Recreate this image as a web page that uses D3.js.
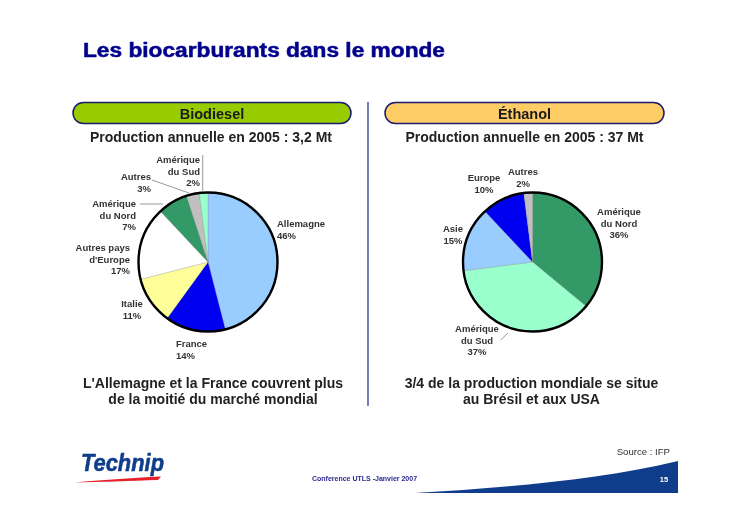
<!DOCTYPE html>
<html>
<head>
<meta charset="utf-8">
<script src="https://d3js.org/d3.v7.min.js"></script>
<style>
  html, body { margin: 0; padding: 0; background: #fff; }
  svg { display: block; filter: blur(0.5px); }
  text { font-family: "Liberation Sans", Arial, sans-serif; }
  .lbl { font-size: 9.5px; font-weight: bold; fill: #333; }
  .sub { font-size: 14px; font-weight: bold; fill: #222; text-anchor: middle; }
</style>
</head>
<body>
<div id="slide"></div>
<script>
// biodiesel pie
var bioCategories = ["Allemagne", "France", "Italie", "Autres pays d'Europe", "Amérique du Nord", "Autres", "Amérique du Sud"];
var bioValues = [46, 14, 11, 17, 7, 3, 2];
var bioColors = ["#99ccff", "#0000f0", "#ffff99", "#ffffff", "#339966", "#c0c0c0", "#99ffcc"];
var bioLines = [["Allemagne", "46%"], ["France", "14%"], ["Italie", "11%"], ["Autres pays", "d'Europe", "17%"], ["Amérique", "du Nord", "7%"], ["Autres", "3%"], ["Amérique", "du Sud", "2%"]];
// x, first line y, anchor for each label
var bioLabelPos = [[277, 227, "start"], [176, 347, "start"], [132, 307, "middle"], [130, 251, "end"], [136, 207, "end"], [151, 180, "end"], [200, 163, "end"]];

// ethanol pie
var ethCategories = ["Amérique du Nord", "Amérique du Sud", "Asie", "Europe", "Autres"];
var ethValues = [36, 37, 15, 10, 2];
var ethColors = ["#339966", "#99ffcc", "#99ccff", "#0000f0", "#c0c0c0"];
var ethLines = [["Amérique", "du Nord", "36%"], ["Amérique", "du Sud", "37%"], ["Asie", "15%"], ["Europe", "10%"], ["Autres", "2%"]];
var ethLabelPos = [[619, 215, "middle"], [477, 332, "middle"], [453, 232, "middle"], [484, 181, "middle"], [523, 175, "middle"]];

var width = 732, height = 517;
var radius = 69.5;

var svg = d3.select("#slide").append("svg")
  .attr("width", width)
  .attr("height", height);

// title
svg.append("text").attr("x", 83).attr("y", 57)
  .attr("textLength", 362).attr("lengthAdjust", "spacingAndGlyphs")
  .style("font-size", "20px").style("font-weight", "bold").style("fill", "#00008c")
  .style("stroke", "#00008c").style("stroke-width", 0.5)
  .text("Les biocarburants dans le monde");

// headers
function pill(x, w, fill, name) {
  svg.append("rect").attr("x", x).attr("y", 102.5).attr("width", w).attr("height", 21).attr("rx", 10.5)
    .attr("fill", fill).attr("stroke", "#1a1a6e").attr("stroke-width", 1.5);
  svg.append("text").attr("x", x + w / 2).attr("y", 119).attr("text-anchor", "middle")
    .style("font-size", "14.5px").style("font-weight", "bold").style("fill", "#1a1a1a").text(name);
}
pill(73, 278, "#99cc00", "Biodiesel");
pill(385, 279, "#ffcc66", "Éthanol");

svg.append("line").attr("x1", 368).attr("x2", 368).attr("y1", 102).attr("y2", 406)
  .attr("stroke", "#3a46a0").attr("stroke-width", 1.4);

svg.append("text").attr("class", "sub").attr("x", 211).attr("y", 142).text("Production annuelle en 2005 : 3,2 Mt");
svg.append("text").attr("class", "sub").attr("x", 524.5).attr("y", 142).text("Production annuelle en 2005 : 37 Mt");

var pie = d3.pie().sort(null);
var arc = d3.arc().innerRadius(0).outerRadius(radius);

function drawPie(cx, cy, values, colors) {
  var g = svg.append("g").attr("transform", "translate(" + cx + "," + cy + ")");
  g.selectAll("path.slice").data(pie(values)).enter().append("path")
    .attr("class", "slice")
    .attr("d", arc)
    .attr("fill", function (d, i) { return colors[i]; })
    .attr("stroke", "#777").attr("stroke-width", 0.25);
  g.append("circle").attr("r", radius).attr("fill", "none").attr("stroke", "#000").attr("stroke-width", 2.4);
}
drawPie(208, 262, bioValues, bioColors);
drawPie(532.5, 262, ethValues, ethColors);

// leader lines, under the labels
var leaders = [
  [[202.7, 155], [202.7, 192]],
  [[152, 180], [189, 193]],
  [[140, 204], [163, 204]],
  [[500.7, 340], [508, 333]]
];
svg.selectAll("path.leader").data(leaders).enter().append("path")
  .attr("class", "leader")
  .attr("d", d3.line())
  .attr("fill", "none").attr("stroke", "#999").attr("stroke-width", 1);

function drawLabels(lines, pos) {
  lines.forEach(function (l, i) {
    var t = svg.append("text").attr("class", "lbl").attr("text-anchor", pos[i][2]);
    l.forEach(function (s, j) {
      t.append("tspan").attr("x", pos[i][0]).attr("y", pos[i][1] + j * 11.7).text(s);
    });
  });
}
drawLabels(bioLines, bioLabelPos);
drawLabels(ethLines, ethLabelPos);

// conclusions
var concl = [
  [213, 388, "L'Allemagne et la France couvrent plus"],
  [213, 404, "de la moitié du marché mondial"],
  [531.5, 388, "3/4 de la production mondiale se situe"],
  [531.5, 404, "au Brésil et aux USA"]
];
concl.forEach(function (c) {
  svg.append("text").attr("class", "sub").attr("x", c[0]).attr("y", c[1]).text(c[2]);
});

// footer
svg.append("text").attr("x", 81).attr("y", 471)
  .attr("textLength", 83).attr("lengthAdjust", "spacingAndGlyphs")
  .style("font-size", "23px").style("font-weight", "bold").style("font-style", "italic").style("fill", "#0f3d8c")
  .style("stroke", "#0f3d8c").style("stroke-width", 0.5)
  .text("Technip");
svg.append("path").attr("d", "M75,482.5 C100,480 130,478 161,476.5 L158,480 C130,481 100,482 75,482.5 Z").attr("fill", "#e8202a");

svg.append("text").attr("x", 312).attr("y", 481)
  .style("font-size", "7px").style("font-weight", "bold").style("fill", "#2a2a90")
  .text("Conference UTLS -Janvier 2007");
svg.append("text").attr("x", 670).attr("y", 455).attr("text-anchor", "end")
  .style("font-size", "9.6px").style("fill", "#333").text("Source : IFP");

svg.append("path").attr("d", "M415,493 C500,488 600,480 678,461 L678,493 Z").attr("fill", "#0f3d8c");
svg.append("text").attr("x", 664).attr("y", 482).attr("text-anchor", "middle")
  .style("font-size", "7.5px").style("font-weight", "bold").style("fill", "#fff").text("15");
</script>
</body>
</html>
